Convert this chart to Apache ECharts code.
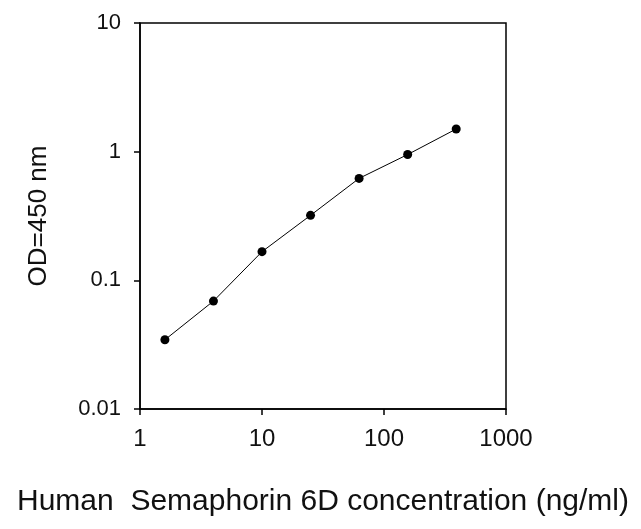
<!DOCTYPE html>
<html><head><meta charset="utf-8">
<script src="https://cdn.jsdelivr.net/npm/echarts@6/dist/echarts.min.js"></script>
<style>html,body{margin:0;padding:0;background:#fff}#c{width:641px;height:529px}</style>
</head><body><div id="c"></div>
<script>
const concentrations = [1.6, 4, 10, 25, 62.5, 156.25, 390.625];
const odValues = [0.0345, 0.069, 0.167, 0.32, 0.62, 0.95, 1.5];
const xTickLabels = ['1', '10', '100', '1000'];
const yTickLabels = ['0.01', '0.1', '1', '10'];
const xTitle = 'Human  Semaphorin 6D concentration (ng/ml)';
const yTitle = 'OD=450 nm';

const chart = echarts.init(document.getElementById('c'));
const font = 'Liberation Sans, Arial, sans-serif';
function fmt(arr, base) {
  return function (v) {
    const i = Math.round(Math.log10(v) - Math.log10(base));
    return arr[i] !== undefined ? arr[i] : '';
  };
}
chart.setOption({
  animation: false,
  grid: { left: 140, right: 135, top: 23, bottom: 120, show: true, borderColor: '#000', borderWidth: 1.5 },
  xAxis: {
    type: 'log', logBase: 10, min: 1, max: 1000,
    name: xTitle, nameLocation: 'middle', nameGap: 78,
    nameTextStyle: { fontFamily: font, fontSize: 30, color: '#111' },
    axisLine: { lineStyle: { color: '#000', width: 1.5 } },
    axisTick: { show: true, length: 6, inside: false, lineStyle: { color: '#000', width: 1.5 } },
    minorTick: { show: false },
    splitLine: { show: false },
    axisLabel: { fontFamily: font, fontSize: 24, color: '#111', margin: 18, formatter: fmt(xTickLabels, 1) }
  },
  yAxis: {
    type: 'log', logBase: 10, min: 0.01, max: 10,
    name: yTitle, nameLocation: 'middle', nameGap: 88, nameRotate: 90,
    nameTextStyle: { fontFamily: font, fontSize: 26, color: '#111' },
    axisLine: { lineStyle: { color: '#000', width: 1.5 } },
    axisTick: { show: true, length: 6, inside: false, lineStyle: { color: '#000', width: 1.5 } },
    splitLine: { show: false },
    axisLabel: { fontFamily: font, fontSize: 22, color: '#111', margin: 19, formatter: fmt(yTickLabels, 0.01) }
  },
  series: [{
    type: 'line',
    data: concentrations.map((c, i) => [c, odValues[i]]),
    symbol: 'circle', symbolSize: 9,
    itemStyle: { color: '#000' },
    lineStyle: { color: '#000', width: 1 }
  }]
});
</script></body></html>
